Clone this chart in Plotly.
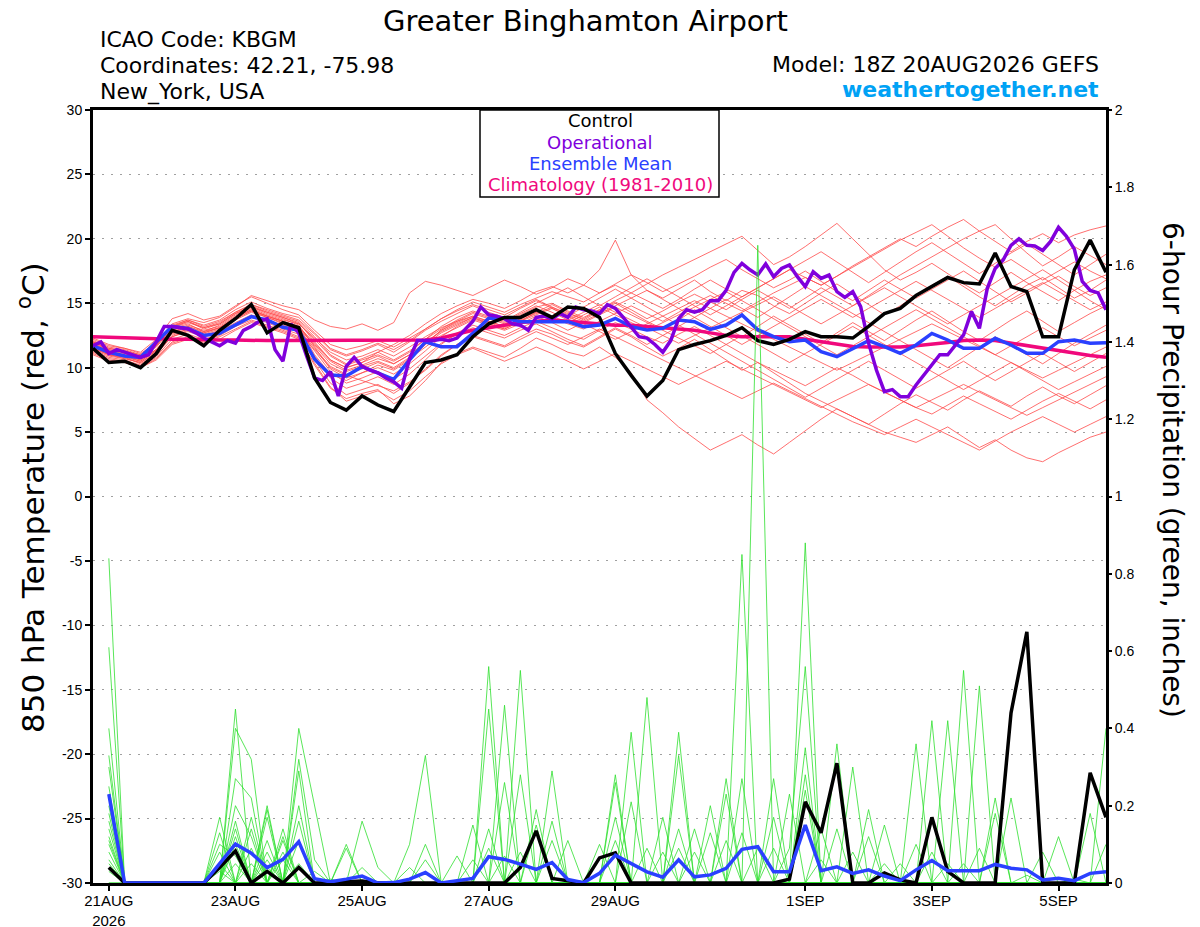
# GEFS meteogram, Greater Binghamton Airport
import pandas as pd
import plotly.graph_objects as go

# %% time axes (6-hourly ensemble, 3-hourly operational)
t6 = pd.date_range('2026-08-20 18:00', periods=65, freq='6h')
t3 = pd.date_range('2026-08-20 18:00', periods=129, freq='3h')

# %% 850 hPa temperature (C)
control_t = [11.5, 10.4, 10.5, 10.0, 11.1, 12.9, 12.5, 11.7, 12.9, 13.8, 14.9, 12.7, 13.5,
             13.1, 9.2, 7.3, 6.7, 7.8, 7.1, 6.6, 8.5, 10.4, 10.6, 11.0, 12.4, 13.4,
             13.9, 13.9, 14.5, 13.9, 14.7, 14.6, 13.9, 11.1, 9.4, 7.8, 9.0, 11.4, 11.8,
             12.1, 12.5, 13.1, 12.1, 11.8, 12.2, 12.8, 12.4, 12.4, 12.3, 13.2, 14.2, 14.6,
             15.6, 16.3, 17.0, 16.6, 16.5, 18.9, 16.3, 15.9, 12.4, 12.4, 17.6, 19.9, 17.4]

mean_t = [11.7, 11.2, 10.9, 10.8, 12.0, 13.2, 13.05, 12.5, 12.66, 13.3, 13.96, 13.7, 13.13,
          12.9, 10.65, 9.43, 9.35, 10.08, 9.6, 9.1, 10.6, 12.0, 11.63, 11.63, 12.66, 13.83,
          13.83, 13.57, 13.57, 13.57, 13.57, 13.18, 13.31, 13.83, 13.18, 12.92, 13.05, 13.7, 13.57,
          12.97, 13.31, 14.09, 12.95, 12.41, 12.02, 12.15, 11.24, 10.85, 11.5, 12.1, 11.63, 11.11,
          11.76, 12.66, 12.15, 11.5, 11.5, 12.28, 11.76, 11.11, 11.11, 12.02, 12.15, 11.89, 11.94]

clim_t = [12.4, 12.35, 12.3, 12.3, 12.25, 12.2, 12.2, 12.15, 12.15, 12.15, 12.1, 12.1, 12.1,
          12.1, 12.1, 12.1, 12.1, 12.1, 12.1, 12.1, 12.1, 12.15, 12.3, 12.6, 12.9, 13.1,
          13.3, 13.5, 13.6, 13.7, 13.6, 13.5, 13.4, 13.3, 13.3, 13.2, 13.1, 13.0, 12.9,
          12.7, 12.5, 12.4, 12.4, 12.45, 12.4, 12.2, 12.0, 11.8, 11.65, 11.6, 11.6, 11.6,
          11.7, 11.8, 11.95, 12.1, 12.15, 12.1, 11.9, 11.7, 11.5, 11.3, 11.1, 10.95, 10.8]

oper_t = [11.7, 12.0, 11.1, 11.4, 11.2, 11.0, 10.8, 11.0, 12.0, 13.2, 13.2, 13.1, 13.0,
          12.7, 12.3, 12.0, 11.7, 12.1, 11.9, 12.9, 13.2, 13.6, 13.8, 11.4, 10.5, 13.4,
          12.7, 10.9, 9.2, 9.0, 9.7, 7.8, 10.1, 10.8, 10.1, 9.8, 9.6, 9.2, 8.9,
          8.4, 10.7, 12.1, 12.1, 12.1, 12.2, 12.1, 12.3, 13.0, 13.6, 14.7, 14.1, 14.0,
          13.8, 13.4, 13.3, 12.9, 13.9, 14.0, 13.8, 14.2, 13.9, 14.7, 14.5, 14.4, 14.2,
          14.9, 14.6, 13.9, 13.1, 12.4, 12.3, 11.8, 11.2, 12.1, 13.8, 14.5, 14.3, 14.5,
          15.2, 15.2, 16.0, 17.4, 18.1, 17.6, 17.2, 18.05, 17.06, 17.7, 17.97, 17.06, 16.29,
          17.45, 16.93, 17.19, 15.9, 15.46, 15.9, 14.74, 11.9, 9.8, 8.14, 8.3, 7.75, 7.75,
          8.66, 9.43, 10.2, 11.0, 11.0, 11.76, 12.54, 14.35, 13.05, 16.16, 17.7, 18.36, 19.5,
          20.0, 19.5, 19.44, 19.1, 19.8, 20.9, 20.2, 19.2, 16.7, 16.0, 15.8, 14.5]

temp_members = [
    [12.0, 11.4, 11.2, 10.8, 11.8, 13.2, 13.6, 13.0, 13.4, 14.2, 14.8, 14.3, 13.9,
     13.5, 12.0, 10.6, 10.0, 10.4, 11.2, 11.8, 12.5, 13.4, 14.2, 14.8, 15.3, 15.0,
     14.6, 15.2, 15.9, 16.3, 15.8, 16.4, 17.6, 19.9, 17.2, 16.0, 15.4, 16.1, 16.8,
     15.9, 15.2, 16.0, 15.6, 14.8, 14.2, 15.0, 15.8, 16.5, 15.7, 14.9, 14.1, 14.8,
     15.6, 16.4, 17.1, 16.3, 15.5, 14.8, 15.6, 16.4, 17.0, 16.2, 15.4, 16.0, 16.8],
    [11.5, 11.0, 10.8, 10.3, 11.0, 12.5, 13.0, 12.7, 13.1, 13.9, 14.5, 14.0, 13.6,
     13.2, 11.0, 9.5, 9.0, 9.6, 10.2, 9.8, 10.6, 11.8, 12.9, 13.6, 14.2, 13.8,
     13.4, 14.1, 14.7, 15.0, 14.4, 13.9, 14.5, 15.2, 15.8, 16.5, 17.2, 17.8, 18.4,
     19.0, 19.6, 20.2, 19.1, 18.0, 18.6, 19.4, 20.3, 21.2, 20.0, 18.8, 17.6, 16.8,
     17.4, 18.1, 17.3, 16.5, 15.8, 16.6, 17.4, 16.6, 15.9, 15.2, 16.0, 16.7, 17.2],
    [11.0, 10.5, 10.4, 10.0, 10.6, 11.8, 12.2, 12.0, 12.4, 13.0, 13.6, 13.2, 12.8,
     12.3, 10.2, 8.4, 7.6, 8.0, 8.3, 7.2, 7.8, 9.0, 10.4, 11.1, 11.6, 11.2,
     10.8, 11.5, 12.3, 11.8, 11.2, 10.9, 11.6, 10.8, 9.6, 7.5, 6.5, 5.4, 4.5,
     3.6, 4.2, 4.8, 4.0, 3.3, 4.2, 5.1, 6.0, 6.8, 6.2, 5.6, 6.4, 7.2,
     7.9, 7.3, 6.7, 7.5, 8.2, 7.6, 7.0, 7.8, 8.5, 7.8, 7.2, 7.9, 8.6],
    [12.3, 11.8, 11.5, 11.2, 12.2, 13.8, 14.2, 13.7, 14.0, 14.8, 15.5, 15.0, 14.5,
     14.1, 12.9, 11.8, 11.4, 11.7, 12.1, 11.6, 12.3, 13.0, 13.8, 14.5, 15.1, 14.7,
     14.3, 14.9, 15.4, 15.9, 15.5, 15.1, 15.8, 16.4, 15.8, 15.2, 14.6, 15.3, 16.1,
     16.8, 16.1, 15.5, 16.2, 16.9, 17.6, 17.0, 16.4, 17.1, 17.9, 18.6, 19.3, 20.0,
     19.4, 20.2, 20.9, 21.5, 20.6, 19.8, 19.0, 19.8, 20.4, 19.7, 20.3, 20.7, 21.0],
    [11.6, 11.0, 10.7, 10.4, 11.2, 12.4, 12.8, 12.4, 12.7, 13.4, 14.0, 13.6, 13.2,
     12.8, 11.4, 10.0, 9.4, 9.0, 8.6, 8.2, 8.9, 9.8, 10.9, 11.8, 12.5, 12.1,
     11.7, 12.4, 13.0, 12.6, 12.0, 11.6, 12.3, 13.0, 12.4, 11.6, 10.9, 11.5, 12.2,
     11.4, 10.6, 9.8, 10.4, 9.6, 8.8, 8.0, 7.4, 6.8, 6.2, 5.6, 5.0, 4.6,
     4.2, 4.8, 5.4, 4.6, 3.8, 4.4, 3.6, 3.0, 2.7, 3.4, 4.0, 4.6, 5.0],
    [11.9, 11.3, 11.1, 10.7, 11.4, 12.9, 13.3, 12.9, 13.2, 14.0, 14.6, 14.1, 13.7,
     13.4, 12.3, 11.2, 10.6, 10.9, 11.4, 10.9, 11.6, 12.4, 13.1, 13.6, 14.0, 13.6,
     13.2, 13.8, 14.3, 13.9, 13.4, 13.0, 13.6, 14.2, 14.8, 14.2, 13.6, 14.3, 15.0,
     15.6, 15.0, 14.4, 15.1, 15.8, 16.4, 17.0, 16.4, 17.1, 17.8, 18.5, 19.2, 19.9,
     20.5, 21.1, 20.2, 19.3, 18.5, 17.8, 18.4, 17.6, 16.8, 17.5, 18.2, 17.5, 16.9],
    [11.7, 11.1, 10.9, 10.5, 11.3, 12.7, 13.1, 12.6, 13.0, 13.8, 14.4, 13.9, 13.5,
     13.1, 11.8, 10.5, 9.8, 10.2, 10.7, 10.3, 11.0, 12.0, 12.8, 13.4, 13.9, 13.5,
     13.1, 13.7, 14.2, 14.7, 14.2, 13.8, 14.5, 15.1, 14.5, 13.8, 14.4, 15.1, 15.7,
     15.1, 14.5, 15.3, 16.0, 15.3, 14.6, 15.4, 16.2, 15.5, 14.8, 15.6, 16.4, 17.2,
     17.9, 18.6, 19.3, 20.0, 20.6, 21.1, 20.0, 18.9, 17.9, 18.6, 19.4, 18.7, 18.0],
    [12.1, 11.6, 11.4, 11.0, 11.9, 13.4, 13.8, 13.5, 13.9, 14.7, 15.6, 15.2, 14.8,
     14.5, 13.7, 13.2, 13.0, 13.4, 12.9, 13.5, 15.8, 16.7, 16.4, 16.0, 15.6, 16.2,
     16.8, 16.3, 15.7, 16.2, 16.9, 16.4, 15.8, 16.5, 17.2, 16.6, 15.9, 16.5, 17.1,
     17.8, 18.4, 17.6, 16.9, 16.2, 16.8, 17.5, 16.7, 15.9, 15.2, 16.0, 16.8, 16.1,
     15.4, 16.1, 16.8, 17.5, 16.7, 15.9, 15.1, 15.8, 16.5, 17.1, 16.3, 15.6, 16.2],
    [11.3, 10.8, 10.6, 10.2, 10.9, 12.2, 12.6, 12.2, 12.6, 13.3, 13.9, 13.5, 13.0,
     12.6, 10.9, 9.2, 8.4, 8.8, 9.3, 8.7, 9.5, 10.6, 11.8, 12.7, 13.3, 12.9,
     12.5, 13.1, 13.6, 13.1, 12.6, 12.2, 12.9, 13.5, 13.0, 12.4, 11.9, 12.6, 13.2,
     12.5, 11.8, 11.1, 10.4, 9.8, 9.2, 8.6, 9.3, 10.0, 9.4, 8.7, 8.1, 7.5,
     6.9, 6.4, 7.1, 7.8, 7.2, 6.6, 6.0, 6.7, 7.4, 8.0, 7.4, 6.8, 7.5],
    [11.8, 11.3, 11.0, 10.8, 11.6, 13.0, 13.4, 12.8, 13.3, 14.1, 14.7, 14.2, 13.8,
     13.3, 11.6, 9.9, 9.2, 9.6, 10.0, 9.5, 10.3, 11.3, 12.4, 13.2, 13.8, 13.4,
     13.0, 13.6, 14.3, 14.9, 14.3, 13.7, 14.4, 15.0, 14.3, 13.6, 13.0, 13.7, 14.5,
     13.8, 13.1, 12.4, 13.2, 14.0, 13.3, 12.6, 11.9, 12.7, 13.5, 12.8, 12.1, 12.9,
     13.7, 14.4, 13.6, 12.8, 12.1, 12.9, 13.7, 14.4, 13.6, 12.8, 13.5, 14.2, 14.8],
    [12.0, 11.5, 11.3, 10.9, 11.7, 13.1, 13.5, 13.1, 13.5, 14.3, 14.9, 14.5, 14.1,
     13.7, 12.6, 11.4, 10.9, 11.3, 11.8, 11.2, 12.0, 12.9, 13.6, 14.2, 14.8, 14.3,
     13.9, 14.6, 15.2, 14.6, 14.0, 14.7, 15.4, 16.1, 15.4, 14.7, 14.0, 13.3, 12.6,
     11.9, 11.2, 10.5, 9.8, 9.1, 8.4, 7.7, 8.4, 9.1, 9.8, 10.5, 9.8, 9.1,
     8.4, 9.1, 9.8, 10.5, 9.7, 9.0, 9.7, 10.4, 11.1, 10.4, 9.7, 10.4, 11.1],
    [11.4, 10.9, 10.7, 10.4, 11.1, 12.4, 12.9, 12.5, 12.8, 13.5, 14.1, 13.7, 13.3,
     12.9, 11.3, 9.7, 8.8, 9.2, 9.7, 9.1, 9.9, 10.9, 11.9, 12.6, 13.1, 12.7,
     12.3, 12.9, 13.4, 12.8, 12.2, 11.7, 12.4, 13.1, 12.5, 11.8, 12.5, 13.2, 13.9,
     14.6, 15.3, 14.6, 13.9, 14.7, 15.5, 16.3, 15.6, 14.9, 14.2, 13.5, 12.8, 12.1,
     11.4, 10.7, 10.0, 10.8, 11.6, 12.4, 11.7, 11.0, 10.3, 11.1, 11.9, 12.6, 13.3],
    [11.2, 10.7, 10.5, 10.1, 10.8, 12.0, 12.4, 12.1, 12.5, 13.2, 13.7, 13.3, 12.9,
     12.4, 10.6, 8.8, 7.9, 8.3, 8.7, 8.0, 8.8, 9.9, 11.0, 11.8, 12.4, 12.0,
     11.6, 12.2, 12.8, 12.3, 11.8, 12.4, 13.0, 12.4, 11.8, 11.2, 10.6, 10.0, 9.4,
     8.8, 8.2, 7.6, 8.2, 8.8, 8.2, 7.6, 7.0, 6.4, 5.8, 5.3, 4.8, 5.4,
     6.0, 5.4, 4.8, 4.2, 3.6, 4.3, 5.0, 5.6, 6.2, 5.6, 5.0, 5.6, 6.2],
    [11.9, 11.4, 11.2, 10.9, 11.7, 13.2, 13.7, 13.2, 13.6, 14.3, 14.9, 14.4, 14.0,
     13.6, 12.4, 11.0, 10.3, 10.7, 11.2, 10.6, 11.3, 12.2, 13.2, 13.9, 14.4, 14.0,
     13.6, 14.3, 15.0, 15.6, 16.2, 15.5, 14.8, 15.5, 16.2, 16.9, 16.2, 15.5, 14.8,
     14.1, 14.8, 15.5, 16.2, 16.9, 17.6, 18.3, 19.0, 18.2, 17.4, 16.6, 17.4, 18.2,
     19.0, 19.7, 18.9, 18.1, 17.3, 18.1, 18.9, 19.6, 18.8, 18.0, 17.2, 18.0, 18.8],
    [11.6, 11.1, 10.9, 10.6, 11.4, 12.6, 13.0, 12.5, 12.9, 13.7, 14.3, 13.9, 13.4,
     13.0, 11.5, 10.1, 9.5, 9.9, 10.4, 9.9, 10.7, 11.6, 12.5, 13.1, 13.7, 13.3,
     12.9, 13.4, 14.0, 13.5, 12.9, 13.5, 14.1, 14.7, 14.1, 13.5, 12.9, 12.3, 11.7,
     11.1, 11.8, 12.5, 11.8, 11.1, 10.4, 11.1, 11.8, 12.5, 13.2, 12.5, 11.8, 11.1,
     10.4, 9.7, 9.0, 8.3, 9.0, 9.7, 10.4, 9.7, 9.0, 8.3, 8.9, 9.5, 10.1],
    [12.2, 11.7, 11.5, 11.1, 11.9, 13.3, 13.7, 13.3, 13.7, 14.5, 15.1, 14.6, 14.2,
     13.9, 12.7, 11.5, 11.0, 11.4, 11.9, 11.4, 12.1, 13.0, 13.8, 14.4, 14.9, 14.5,
     14.1, 14.7, 15.3, 14.7, 14.1, 13.6, 14.2, 14.8, 15.4, 16.0, 15.3, 14.6, 13.9,
     13.2, 12.5, 11.8, 12.5, 13.2, 13.9, 14.6, 15.3, 14.6, 13.9, 14.6, 15.3, 16.0,
     16.7, 16.0, 15.3, 14.6, 13.9, 14.6, 15.3, 16.0, 16.6, 15.9, 15.2, 14.5, 15.1],
    [11.1, 10.6, 10.4, 10.0, 10.7, 11.9, 12.3, 11.9, 12.2, 12.9, 13.5, 13.1, 12.7,
     12.2, 10.3, 8.5, 7.4, 7.8, 8.2, 7.5, 8.2, 9.3, 10.3, 11.0, 11.5, 11.0,
     10.5, 11.0, 11.6, 11.1, 10.5, 9.9, 10.5, 11.1, 10.5, 9.9, 9.3, 8.7, 9.3,
     9.9, 10.5, 9.9, 9.3, 8.7, 8.1, 7.5, 6.9, 7.5, 8.1, 8.7, 8.1, 7.5,
     6.9, 7.5, 8.1, 8.7, 8.1, 7.5, 6.9, 6.3, 6.9, 7.5, 8.1, 8.7, 9.3],
    [11.5, 11.0, 10.8, 10.5, 11.3, 12.7, 13.2, 12.8, 13.1, 13.9, 14.5, 14.0, 13.6,
     13.2, 11.9, 10.6, 10.0, 10.4, 10.9, 10.3, 11.0, 11.9, 12.9, 13.5, 14.0, 13.6,
     13.2, 13.8, 14.4, 14.0, 13.5, 14.1, 14.7, 14.1, 13.5, 12.9, 13.5, 14.1, 14.7,
     15.3, 15.9, 15.2, 14.5, 13.8, 13.1, 12.4, 11.7, 11.0, 11.7, 12.4, 13.1, 13.8,
     14.5, 13.8, 13.1, 12.4, 11.7, 11.0, 11.7, 12.4, 13.1, 12.4, 11.7, 12.3, 12.9],
    [11.7, 11.2, 11.0, 10.6, 11.4, 12.8, 13.2, 12.7, 13.1, 13.8, 14.4, 14.0, 13.6,
     13.1, 11.7, 10.3, 9.7, 10.1, 10.5, 10.0, 10.8, 11.8, 12.7, 13.3, 13.9, 13.4,
     13.0, 13.6, 14.1, 14.6, 14.0, 13.4, 12.8, 12.2, 12.8, 13.4, 14.0, 14.6, 15.2,
     14.6, 14.0, 13.4, 12.8, 12.2, 11.6, 11.0, 10.4, 9.8, 10.4, 11.0, 11.6, 12.2,
     12.8, 13.4, 12.8, 12.2, 11.6, 11.0, 10.4, 9.8, 9.2, 9.8, 10.4, 11.0, 11.6],
    [12.0, 11.5, 11.3, 11.0, 11.8, 13.1, 13.6, 13.1, 13.4, 14.2, 14.7, 14.3, 13.9,
     13.4, 12.2, 10.9, 10.2, 10.6, 11.0, 10.5, 11.2, 12.2, 13.0, 13.7, 14.3, 13.9,
     13.5, 14.2, 14.8, 14.3, 13.7, 14.3, 14.9, 14.3, 13.7, 13.1, 12.5, 11.9, 12.5,
     13.1, 13.7, 14.3, 14.9, 15.5, 14.8, 14.1, 13.4, 14.1, 14.8, 15.5, 16.2, 15.5,
     14.8, 14.1, 13.4, 14.1, 14.8, 15.5, 16.2, 16.9, 17.6, 16.8, 16.0, 15.2, 14.5],
]

# %% 6-hour precipitation (inches), 21AUG 00Z onwards
control_p = [0.04, 0, 0, 0, 0, 0, 0, 0.04,
             0.083, 0, 0.03, 0, 0.04, 0, 0, 0.003,
             0.005, 0, 0, 0, 0, 0, 0, 0,
             0, 0, 0.04, 0.135, 0.012, 0.005, 0, 0.065,
             0.078, 0, 0, 0, 0, 0, 0, 0,
             0, 0, 0, 0.01, 0.21, 0.13, 0.31, 0,
             0, 0.026, 0.008, 0, 0.17, 0.03, 0, 0,
             0, 0.44, 0.65, 0, 0, 0, 0.285, 0.17]

mean_p = [0.23, 0, 0, 0, 0, 0, 0, 0.05,
          0.101, 0.077, 0.04, 0.061, 0.107, 0.011, 0.003, 0.01,
          0.018, 0, 0.001, 0.01, 0.027, 0, 0.005, 0.012,
          0.068, 0.061, 0.049, 0.035, 0.053, 0.009, 0.001, 0.025,
          0.072, 0.051, 0.029, 0.015, 0.06, 0.016, 0.021, 0.038,
          0.087, 0.094, 0.029, 0.029, 0.15, 0.032, 0.042, 0.025,
          0.034, 0.018, 0.006, 0.034, 0.058, 0.032, 0.032, 0.032,
          0.048, 0.038, 0.034, 0.008, 0.012, 0.006, 0.025, 0.029]

precip_members = [
    [0.84, 0, 0, 0, 0, 0, 0, 0,  0.45, 0, 0.08, 0, 0, 0, 0, 0,
     0.04, 0, 0, 0, 0, 0, 0, 0,  0.09, 0, 0, 0, 0, 0, 0, 0,
     0.11, 0, 0, 0, 0, 0, 0, 0,  0, 0, 0.09, 0, 0.88, 0, 0, 0,
     0, 0, 0, 0, 0, 0.42, 0, 0,  0, 0, 0, 0, 0, 0, 0, 0],
    [0.61, 0, 0, 0, 0, 0, 0, 0,  0.10, 0, 0.11, 0, 0.40, 0.20, 0, 0,
     0, 0, 0, 0, 0, 0, 0, 0,  0, 0.07, 0, 0, 0, 0, 0, 0,
     0, 0, 0, 0.08, 0, 0, 0, 0,  0, 0, 0, 0.09, 0.56, 0, 0, 0,
     0, 0, 0, 0, 0, 0.05, 0, 0,  0, 0, 0, 0, 0, 0, 0, 0],
    [0.40, 0, 0, 0, 0, 0, 0, 0.17,  0, 0.17, 0, 0.14, 0, 0, 0, 0,
     0, 0, 0, 0.10, 0.33, 0, 0, 0,  0, 0, 0.08, 0, 0, 0, 0, 0,
     0, 0, 0, 0, 0.14, 0, 0, 0,  0, 0, 0, 0, 0.35, 0, 0, 0,
     0, 0, 0, 0, 0, 0, 0.55, 0,  0, 0, 0, 0, 0, 0, 0, 0],
    [0.33, 0, 0, 0, 0, 0, 0, 0,  0.40, 0.32, 0, 0, 0, 0, 0, 0,
     0, 0, 0, 0, 0.06, 0, 0, 0,  0, 0, 0, 0, 0.16, 0, 0, 0,
     0, 0, 0, 0, 0.09, 0, 0, 0,  0, 0, 0, 0, 0.28, 0, 0, 0,
     0, 0, 0, 0, 0, 0, 0.05, 0,  0, 0, 0, 0, 0, 0, 0, 0],
    [0.30, 0, 0, 0, 0, 0, 0, 0.13,  0, 0, 0.19, 0, 0.32, 0.06, 0, 0,
     0, 0, 0, 0, 0, 0, 0, 0,  0, 0, 0, 0, 0.11, 0, 0, 0,
     0, 0, 0, 0, 0, 0.08, 0, 0,  0, 0, 0, 0, 0.24, 0, 0, 0,
     0, 0, 0, 0, 0, 0, 0, 0.51,  0, 0, 0, 0, 0, 0, 0, 0],
    [0.23, 0, 0, 0, 0, 0, 0, 0,  0.27, 0.22, 0, 0, 0.05, 0, 0, 0,
     0, 0, 0, 0, 0, 0, 0, 0,  0, 0, 0, 0, 0, 0.11, 0, 0,
     0, 0, 0, 0, 0, 0, 0.13, 0,  0, 0, 0, 0, 0, 0.14, 0, 0,
     0, 0, 0, 0, 0, 0, 0, 0.09,  0, 0, 0, 0, 0, 0, 0, 0],
    [0.16, 0, 0, 0, 0, 0, 0, 0.08,  0, 0, 0.17, 0, 0, 0, 0.01, 0,
     0, 0, 0, 0, 0, 0, 0.07, 0,  0, 0, 0, 0, 0, 0, 0, 0.10,
     0, 0, 0, 0, 0, 0, 0, 0.23,  0, 0, 0, 0, 0, 0.06, 0, 0,
     0, 0, 0, 0, 0, 0, 0, 0,  0.22, 0, 0, 0, 0, 0, 0, 0],
    [0.14, 0, 0, 0, 0, 0, 0, 0,  0.16, 0, 0.20, 0, 0.29, 0, 0, 0,
     0, 0, 0, 0, 0, 0, 0, 0.15,  0, 0, 0, 0, 0, 0, 0, 0,
     0.28, 0, 0, 0, 0, 0, 0, 0.11,  0, 0, 0, 0, 0, 0, 0.36, 0,
     0, 0, 0, 0, 0, 0, 0, 0,  0.18, 0, 0, 0, 0, 0, 0, 0],
    [0.11, 0, 0, 0, 0, 0, 0, 0.05,  0, 0.14, 0, 0.11, 0, 0, 0, 0.09,
     0, 0, 0, 0, 0, 0, 0, 0,  0.56, 0, 0, 0, 0, 0, 0, 0,
     0, 0.39, 0, 0, 0, 0, 0, 0,  0.13, 0, 0, 0, 0, 0, 0.14, 0,
     0, 0, 0, 0, 0, 0, 0, 0,  0, 0.22, 0, 0, 0, 0, 0, 0],
    [0.06, 0, 0, 0, 0, 0, 0, 0,  0.14, 0, 0, 0.06, 0, 0, 0, 0.10,
     0, 0, 0, 0, 0, 0, 0, 0,  0.45, 0, 0, 0, 0, 0, 0, 0,
     0, 0, 0.48, 0, 0, 0, 0, 0,  0, 0.09, 0, 0, 0, 0, 0, 0.30,
     0, 0, 0, 0, 0, 0, 0, 0,  0, 0, 0.02, 0, 0, 0, 0, 0],
    [0.20, 0, 0, 0, 0, 0, 0, 0.03,  0, 0.09, 0, 0, 0.16, 0, 0, 0,
     0, 0, 0, 0, 0, 0, 0, 0,  0, 0.46, 0, 0, 0, 0, 0, 0,
     0, 0, 0, 0.17, 0, 0, 0, 0,  0, 0, 0.17, 0, 0, 0, 0, 0.08,
     0, 0, 0, 0, 0, 0, 0, 0,  0, 0, 0, 0.08, 0, 0, 0, 0],
    [0.18, 0, 0, 0, 0, 0, 0, 0.10,  0.07, 0, 0, 0.12, 0, 0, 0, 0,
     0.16, 0.04, 0, 0, 0, 0, 0, 0,  0, 0.26, 0, 0, 0, 0, 0, 0,
     0, 0, 0, 0, 0.39, 0, 0, 0,  0, 0, 0, 0, 0, 0, 0, 0,
     0.19, 0, 0, 0, 0, 0, 0, 0,  0, 0, 0, 0, 0.12, 0, 0, 0],
    [0.12, 0, 0, 0, 0, 0, 0, 0,  0.20, 0.12, 0, 0, 0, 0.03, 0, 0,
     0, 0, 0, 0, 0, 0, 0, 0,  0, 0, 0.55, 0, 0, 0, 0, 0,
     0, 0, 0, 0, 0, 0.14, 0, 0,  0, 0, 0, 0, 0, 0, 0, 0,
     0.12, 0, 0, 0, 0, 0, 0, 0,  0, 0, 0, 0, 0, 0.01, 0, 0],
    [0.08, 0, 0, 0, 0, 0, 0, 0,  0, 0.05, 0, 0, 0.11, 0, 0, 0,
     0, 0, 0, 0, 0, 0, 0, 0,  0, 0, 0.28, 0, 0, 0, 0, 0,
     0, 0, 0, 0, 0, 0, 0.20, 0,  0, 0, 0, 0, 0, 0, 0, 0,
     0, 0.15, 0, 0, 0, 0, 0, 0,  0, 0, 0, 0, 0, 0, 0.18, 0],
    [0.25, 0, 0, 0, 0, 0, 0, 0,  0.12, 0, 0, 0, 0, 0, 0, 0,
     0, 0, 0, 0.04, 0, 0, 0, 0,  0, 0, 0, 0.19, 0, 0, 0, 0,
     0, 0, 0, 0, 0, 0, 0, 0.27,  0, 0, 0, 0, 0, 0, 0, 0,
     0, 0.05, 0, 0, 0, 0, 0, 0,  0, 0, 0, 0, 0, 0, 0, 0.40],
    [0.10, 0, 0, 0, 0, 0, 0, 0,  0, 0, 0.06, 0, 0, 0, 0, 0,
     0, 0, 0, 0, 0.10, 0, 0, 0,  0, 0, 0, 0, 0, 0, 0, 0,
     0.26, 0, 0, 0, 0, 0, 0, 0,  0.85, 0, 0, 0, 0, 0, 0, 0,
     0, 0, 0.05, 0, 0, 0, 0, 0,  0, 0, 0, 0, 0, 0, 0, 0.10],
    [0.05, 0, 0, 0, 0, 0, 0, 0,  0.05, 0, 0, 0, 0, 0, 0, 0,
     0, 0, 0, 0, 0, 0, 0, 0.06,  0, 0, 0, 0, 0, 0, 0, 0,
     0.17, 0, 0, 0, 0, 0, 0, 0,  0.27, 0, 0, 0, 0, 0, 0, 0,
     0, 0, 0, 0.36, 0, 0, 0, 0,  0, 0, 0, 0, 0, 0, 0, 0],
    [0.03, 0, 0, 0, 0, 0, 0, 0,  0, 0, 0.04, 0, 0, 0, 0, 0,
     0, 0, 0, 0, 0, 0, 0, 0,  0.14, 0, 0, 0, 0, 0, 0, 0,
     0, 0.21, 0, 0, 0, 0, 0, 0,  0, 1.65, 0, 0, 0, 0, 0, 0,
     0, 0, 0, 0.10, 0, 0, 0, 0,  0, 0, 0, 0, 0, 0, 0, 0],
    [0, 0, 0, 0, 0, 0, 0, 0,  0, 0, 0, 0.08, 0, 0, 0, 0,
     0, 0, 0, 0, 0, 0, 0, 0,  0, 0, 0, 0.15, 0, 0, 0, 0,
     0, 0, 0.09, 0, 0, 0, 0, 0,  0, 0, 0.27, 0, 0, 0, 0, 0,
     0, 0, 0, 0, 0.42, 0, 0, 0,  0, 0, 0, 0, 0, 0, 0, 0],
    [0, 0, 0, 0, 0, 0, 0, 0,  0, 0, 0, 0, 0.20, 0, 0, 0,
     0, 0, 0, 0, 0, 0, 0, 0,  0, 0, 0, 0, 0.29, 0, 0, 0,
     0, 0, 0, 0, 0.33, 0, 0, 0,  0, 0, 0, 0.23, 0, 0, 0, 0,
     0, 0, 0, 0, 0.08, 0, 0, 0,  0, 0, 0, 0, 0, 0, 0, 0],
]

# %% axis labels
temp_ticks = list(range(-30, 31, 5))
temp_labels = [str(v) for v in temp_ticks]
precip_ticks = [0, 0.2, 0.4, 0.6, 0.8, 1.0, 1.2, 1.4, 1.6, 1.8, 2.0]
precip_labels = ['0', '0.2', '0.4', '0.6', '0.8', '1', '1.2', '1.4', '1.6', '1.8', '2']
date_ticks = ['2026-08-21', '2026-08-23', '2026-08-25', '2026-08-27',
              '2026-08-29', '2026-09-01', '2026-09-03', '2026-09-05']
date_labels = ['21AUG<br>2026', '23AUG', '25AUG', '27AUG', '29AUG', '1SEP', '3SEP', '5SEP']

TICKFONT = 'Liberation Sans, Arial, sans-serif'
TEXTFONT = 'DejaVu Sans, Liberation Sans, sans-serif'

# page body has an 8px margin, so the figure is drawn 8px in from the window corner
W, H = 1192, 919
L, R, T, B = 93, 1106, 110, 883   # plot frame, window pixels


def px(x):
    return (x - L) / (R - L)


def py(y):
    return (B - y) / (B - T)


# %% figure
fig = go.Figure()

for m in temp_members:
    fig.add_trace(go.Scatter(x=t6, y=m, mode='lines',
                             line=dict(color='#ff4a4a', width=0.8)))
for m in precip_members:
    fig.add_trace(go.Scatter(x=t6[1:], y=m, mode='lines', yaxis='y2',
                             line=dict(color='#2ee02e', width=0.8)))

fig.add_trace(go.Scatter(x=t6, y=clim_t, mode='lines', line=dict(color='#f0087c', width=3.5)))
fig.add_trace(go.Scatter(x=t6, y=mean_t, mode='lines', line=dict(color='#2a40ff', width=3.5)))
fig.add_trace(go.Scatter(x=t3, y=oper_t, mode='lines', line=dict(color='#8000dc', width=3.5)))
fig.add_trace(go.Scatter(x=t6, y=control_t, mode='lines', line=dict(color='black', width=3.5)))
fig.add_trace(go.Scatter(x=t6[1:], y=control_p, mode='lines', yaxis='y2',
                         line=dict(color='black', width=3.5)))
fig.add_trace(go.Scatter(x=t6[1:], y=mean_p, mode='lines', yaxis='y2',
                         line=dict(color='#2a40ff', width=3.5)))

fig.update_layout(
    width=W, height=H,
    margin=dict(l=L - 8, r=W - (R - 8), t=T - 8, b=H - (B - 8), autoexpand=False),
    paper_bgcolor='white', plot_bgcolor='white',
    showlegend=False,
    font=dict(family=TICKFONT, color='black', size=14),
    xaxis=dict(type='date', range=['2026-08-20 18:00', '2026-09-05 18:00'],
               tickvals=date_ticks, ticktext=date_labels,
               ticks='outside', ticklen=5, tickwidth=1.5, tickcolor='black',
               ticklabelstandoff=-3,
               showgrid=False, zeroline=False,
               showline=True, linewidth=3, linecolor='black', mirror=True,
               tickfont=dict(size=15)),
    yaxis=dict(range=[-30, 30], tickvals=temp_ticks, ticktext=temp_labels,
               ticks='outside', ticklen=5, tickwidth=1.5, tickcolor='black',
               showgrid=True, gridcolor='#a0a0a0', gridwidth=1, griddash='2px,7px',
               zeroline=False,
               showline=True, linewidth=3, linecolor='black', mirror=True,
               tickfont=dict(size=14)),
    yaxis2=dict(range=[0, 2], overlaying='y', side='right',
                tickvals=precip_ticks, ticktext=precip_labels,
                ticks='outside', ticklen=5, tickwidth=1.5, tickcolor='black',
                showgrid=False, zeroline=False, showline=False,
                tickfont=dict(size=14)),
)

# legend box
fig.add_shape(type='rect', xref='paper', yref='paper',
              x0=px(480), x1=px(719), y0=py(197), y1=py(110),
              line=dict(color='black', width=1.5), fillcolor='white', layer='above')

legend_items = [('Control', 'black', 121), ('Operational', '#8000dc', 142),
                ('Ensemble Mean', '#2a40ff', 163), ('Climatology (1981-2010)', '#f0087c', 185)]
for text, color, y in legend_items:
    fig.add_annotation(text=text, x=px(600), y=py(y), xref='paper', yref='paper',
                       xanchor='center', yanchor='middle', showarrow=False,
                       font=dict(family=TEXTFONT, size=18, color=color))

header = [
    ('Greater Binghamton Airport', 585, 21, 'center', 29, 'black'),
    ('ICAO Code: KBGM', 98, 40, 'left', 22, 'black'),
    ('Coordinates: 42.21, -75.98', 98, 66, 'left', 22, 'black'),
    ('New_York, USA', 98, 92, 'left', 22, 'black'),
    ('Model: 18Z 20AUG2026 GEFS', 1101, 65, 'right', 22, 'black'),
    ('<b>weathertogether.net</b>', 1101, 89, 'right', 22, '#00a2f5'),
]
for text, x, y, anchor, size, color in header:
    fig.add_annotation(text=text, x=px(x), y=py(y), xref='paper', yref='paper',
                       xanchor=anchor, yanchor='middle', showarrow=False,
                       font=dict(family=TEXTFONT, size=size, color=color))

fig.add_annotation(text='850 hPa Temperature (red, <sup>o</sup>C)', x=px(31), y=py(498),
                   xref='paper', yref='paper', textangle=-90, showarrow=False,
                   xanchor='center', yanchor='middle',
                   font=dict(family=TEXTFONT, size=31))
fig.add_annotation(text='6-hour Precipitation (green, inches)', x=px(1173), y=py(470),
                   xref='paper', yref='paper', textangle=90, showarrow=False,
                   xanchor='center', yanchor='middle',
                   font=dict(family=TEXTFONT, size=28))

fig.write_html("out.html")
